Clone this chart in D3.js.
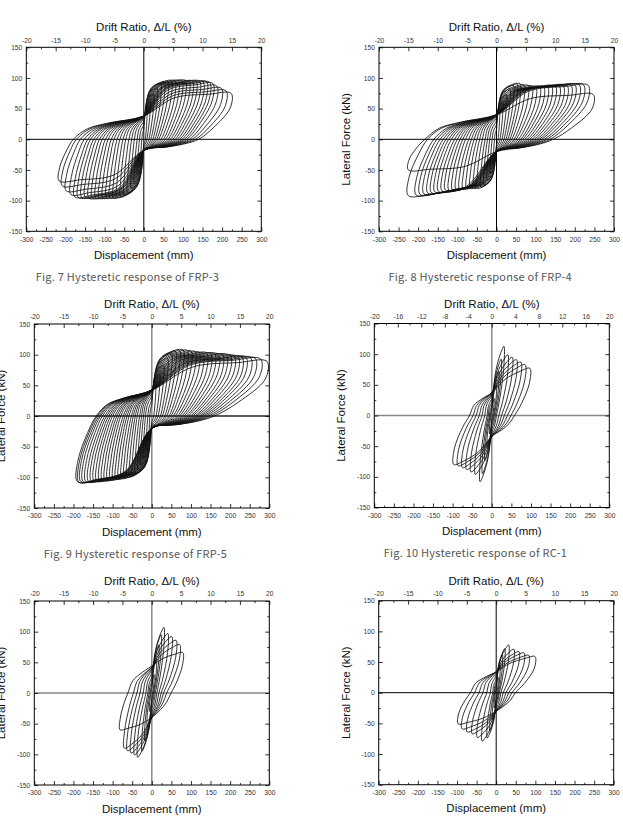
<!DOCTYPE html>
<html>
<head>
<meta charset="utf-8">
<script src="https://cdn.jsdelivr.net/npm/d3@7"></script>
<style>
  body { margin: 0; background: #fff; }
  svg { display: block; }
</style>
</head>
<body>
<svg id="fig" width="623" height="818"></svg>
<script>
// tick labels
const dispTicks = [-300, -250, -200, -150, -100, -50, 0, 50, 100, 150, 200, 250, 300];
const dispMinor = [-275, -225, -175, -125, -75, -25, 25, 75, 125, 175, 225, 275];
const forceTicks = [-150, -100, -50, 0, 50, 100, 150];
const forceMinor = [-125, -75, -25, 25, 75, 125];
const driftTicks = [-20, -15, -10, -5, 0, 5, 10, 15, 20];
const driftMinor = [-17.5, -12.5, -7.5, -2.5, 2.5, 7.5, 12.5, 17.5];
const driftTicksRC = [-20, -16, -12, -8, -4, 0, 4, 8, 12, 16, 20];
const driftMinorRC = [-18, -14, -10, -6, -2, 2, 6, 10, 14, 18];

// FRP-3: per cycle peaks (mm, kN), zero-force crossings on unloading (mm),
// force where the reloading branch crosses zero displacement (kN)
const frp3PosD = [8, 16, 25, 34, 43, 52, 61, 70, 79, 88, 97, 106, 115, 124, 133, 142, 151, 160, 168, 176, 186, 198, 210, 223];
const frp3PosF = [48, 62, 74, 84, 91, 94, 95, 96, 96, 96, 96, 96, 95, 95, 95, 95, 94, 94, 93, 91, 87, 83, 79, 75];
const frp3NegD = [-8, -16, -24, -32, -41, -50, -59, -68, -77, -86, -95, -104, -113, -122, -131, -140, -149, -158, -167, -176, -186, -198, -208, -216];
const frp3NegF = [-42, -58, -70, -80, -87, -91, -94, -95, -96, -96, -96, -96, -96, -96, -96, -96, -95, -95, -95, -94, -90, -84, -76, -68];
const frp3ZeroPos = [4, 8, 13, 18, 23, 28, 33, 38, 44, 50, 56, 62, 68, 74, 80, 86, 92, 98, 104, 110, 117, 124, 132, 140];
const frp3ZeroNeg = [-5, -11, -17, -24, -31, -38, -46, -53, -61, -68, -76, -83, -91, -98, -106, -113, -121, -128, -136, -143, -152, -162, -172, -180];
const frp3PinchUp = [16, 24, 30, 34, 36, 37, 38, 38, 38, 38, 38, 38, 38, 38, 38, 38, 38, 38, 38, 38, 38, 38, 38, 38];
const frp3PinchDown = [-8, -12, -15, -17, -18, -18, -18, -18, -18, -18, -18, -18, -18, -18, -18, -18, -18, -18, -18, -18, -18, -18, -18, -18];

// FRP-4
const frp4PosD = [8, 16, 25, 34, 43, 52, 60, 70, 80, 90, 100, 110, 120, 130, 140, 150, 160, 170, 180, 190, 200, 211, 222, 234, 247];
const frp4PosF = [45, 60, 72, 82, 88, 91, 91, 89, 88, 87, 86, 86, 86, 86, 87, 87, 87, 88, 88, 88, 89, 89, 89, 88, 73];
const frp4NegD = [-8, -16, -24, -32, -40, -49, -58, -67, -76, -85, -94, -103, -112, -121, -130, -139, -148, -157, -166, -175, -185, -195, -205, -225, -225];
const frp4NegF = [-40, -55, -66, -74, -78, -80, -80, -80, -80, -81, -81, -82, -82, -83, -83, -84, -85, -86, -87, -88, -89, -90, -91, -92, -50];
const frp4ZeroPos = [4, 9, 14, 19, 24, 29, 34, 39, 45, 50, 56, 62, 67, 73, 79, 85, 91, 97, 103, 109, 115, 122, 129, 137, 145];
const frp4ZeroNeg = [-5, -11, -17, -23, -29, -36, -43, -50, -57, -64, -71, -79, -86, -93, -100, -107, -115, -122, -129, -136, -144, -152, -160, -176, -183];
const frp4PinchUp = [16, 24, 30, 35, 38, 40, 40, 40, 40, 40, 40, 40, 40, 40, 40, 40, 40, 40, 40, 40, 40, 40, 40, 40, 40];
const frp4PinchDown = [-9, -13, -16, -18, -19, -20, -20, -20, -20, -20, -20, -20, -20, -20, -20, -20, -20, -20, -20, -20, -20, -20, -20, -20, -20];

// FRP-5
const frp5PosD = [10, 20, 30, 40, 50, 60, 70, 80, 90, 100, 110, 120, 130, 140, 150, 160, 170, 180, 190, 200, 210, 220, 230, 240, 252, 264, 278, 294];
const frp5PosF = [52, 68, 82, 94, 102, 106, 108, 108, 107, 106, 105, 104, 103, 103, 102, 102, 101, 100, 100, 99, 98, 97, 96, 96, 95, 94, 93, 89];
const frp5NegD = [-7, -14, -21, -28, -35, -42, -49, -56, -63, -70, -77, -84, -91, -98, -105, -112, -119, -126, -133, -140, -147, -154, -161, -168, -175, -181, -186, -190];
const frp5NegF = [-40, -55, -68, -80, -88, -94, -97, -99, -100, -101, -102, -102, -103, -103, -104, -104, -105, -105, -105, -106, -106, -106, -107, -107, -107, -107, -108, -107];
const frp5ZeroPos = [5, 11, 16, 22, 27, 33, 38, 44, 49, 55, 60, 66, 71, 77, 82, 88, 93, 99, 104, 110, 115, 121, 126, 132, 138, 145, 152, 160];
const frp5ZeroNeg = [-5, -10, -16, -21, -26, -31, -37, -42, -47, -52, -58, -63, -68, -73, -79, -84, -89, -94, -100, -105, -110, -115, -120, -126, -131, -135, -139, -142];
const frp5PinchUp = [18, 26, 33, 38, 41, 42, 42, 42, 42, 42, 42, 42, 42, 42, 42, 42, 42, 42, 42, 42, 42, 42, 42, 42, 42, 42, 42, 42];
const frp5PinchDown = [-9, -13, -16, -18, -19, -20, -20, -20, -20, -20, -20, -20, -20, -20, -20, -20, -20, -20, -20, -20, -20, -20, -20, -20, -20, -20, -20, -20];

// RC-1
const rc1PosD = [6, 12, 18, 24, 31, 41, 52, 63, 74, 85, 97];
const rc1PosF = [28, 50, 72, 92, 113, 99, 95, 91, 87, 83, 77];
const rc1NegD = [-6, -12, -18, -24, -30, -42, -53, -64, -75, -86, -97];
const rc1NegF = [-30, -52, -74, -95, -108, -96, -92, -88, -85, -82, -80];
const rc1ZeroPos = [2, 4, 6, 9, 12, 18, 25, 32, 40, 49, 58];
const rc1ZeroNeg = [-2, -4, -6, -9, -12, -18, -25, -32, -40, -48, -57];
const rc1PinchUp = [6, 11, 16, 22, 28, 33, 35, 36, 37, 37, 37];
const rc1PinchDown = [-6, -11, -16, -22, -28, -32, -34, -34, -34, -34, -34];

// lower left specimen
const sp5PosD = [6, 12, 18, 24, 31, 41, 51, 62, 71, 79];
const sp5PosF = [30, 55, 78, 95, 107, 97, 92, 86, 79, 66];
const sp5NegD = [-6, -12, -18, -25, -36, -44, -53, -62, -70, -81];
const sp5NegF = [-30, -55, -78, -95, -105, -101, -98, -94, -90, -60];
const sp5ZeroPos = [2, 4, 6, 9, 13, 18, 24, 30, 38, 49];
const sp5ZeroNeg = [-2, -4, -7, -10, -15, -22, -30, -38, -47, -61];
const sp5PinchUp = [7, 13, 19, 26, 33, 38, 40, 42, 42, 44];
const sp5PinchDown = [-7, -13, -19, -26, -33, -37, -39, -40, -40, -40];

// lower right specimen
const sp6PosD = [5, 10, 16, 22, 32, 45, 58, 71, 83, 99];
const sp6PosF = [25, 45, 62, 72, 78, 71, 67, 65, 61, 59];
const sp6NegD = [-5, -10, -16, -23, -36, -48, -61, -74, -87, -97];
const sp6NegF = [-25, -45, -62, -74, -79, -73, -67, -64, -59, -51];
const sp6ZeroPos = [2, 4, 6, 8, 12, 18, 25, 32, 40, 49];
const sp6ZeroNeg = [-2, -4, -6, -9, -15, -24, -34, -44, -55, -66];
const sp6PinchUp = [6, 11, 16, 22, 28, 32, 34, 34, 34, 34];
const sp6PinchDown = [-6, -11, -16, -21, -26, -29, -30, -30, -30, -30];

const W = 235, H = 184;
const axisFont = "'Liberation Sans', Arial, sans-serif";
// reloading branch shape: [knee position, knee force share, near-peak force share]
const pinchedShape = [0.35, 0.8, 0.96];
const roundShape = [0.35, 0.55, 0.88];

const panels = [
  { x: 26.3, y: 47.3, caption: "Fig. 7 Hysteretic response of FRP-3", drift: driftTicks, driftMin: driftMinor, shape: pinchedShape,
    zx: "#000", zy: "#000", zw: 1,
    d: [frp3PosD, frp3PosF, frp3NegD, frp3NegF, frp3ZeroPos, frp3ZeroNeg, frp3PinchUp, frp3PinchDown] },
  { x: 379, y: 47.3, caption: "Fig. 8 Hysteretic response of FRP-4", drift: driftTicks, driftMin: driftMinor, shape: pinchedShape,
    zx: "#000", zy: "#000", zw: 1,
    d: [frp4PosD, frp4PosF, frp4NegD, frp4NegF, frp4ZeroPos, frp4ZeroNeg, frp4PinchUp, frp4PinchDown] },
  { x: 34.3, y: 324, caption: "Fig. 9 Hysteretic response of FRP-5", drift: driftTicks, driftMin: driftMinor, shape: pinchedShape,
    zx: "#888", zy: "#222", zw: 1.5,
    d: [frp5PosD, frp5PosF, frp5NegD, frp5NegF, frp5ZeroPos, frp5ZeroNeg, frp5PinchUp, frp5PinchDown] },
  { x: 374.3, y: 323.5, caption: "Fig. 10 Hysteretic response of RC-1", drift: driftTicksRC, driftMin: driftMinorRC, shape: roundShape,
    zx: "#888", zy: "#888", zw: 1.5,
    d: [rc1PosD, rc1PosF, rc1NegD, rc1NegF, rc1ZeroPos, rc1ZeroNeg, rc1PinchUp, rc1PinchDown] },
  { x: 34.3, y: 601, caption: null, drift: driftTicks, driftMin: driftMinor, shape: roundShape,
    zx: "#888", zy: "#888", zw: 1.5,
    d: [sp5PosD, sp5PosF, sp5NegD, sp5NegF, sp5ZeroPos, sp5ZeroNeg, sp5PinchUp, sp5PinchDown] },
  { x: 378.7, y: 600.7, caption: null, drift: driftTicks, driftMin: driftMinor, shape: roundShape,
    zx: "#000", zy: "#000", zw: 1,
    d: [sp6PosD, sp6PosF, sp6NegD, sp6NegF, sp6ZeroPos, sp6ZeroNeg, sp6PinchUp, sp6PinchDown] }
];

// one closed cycle: peak -> unloading -> pinch -> opposite peak -> unloading -> pinch
function loopPoints(dp, fp, dn, fn, zp, zn, up, dw, s) {
  const [kx, kf, qf] = s;
  return [
    [dp, fp],
    [0.97 * dp + 0.03 * zp, 0.68 * fp],
    [zp + 0.45 * (dp - zp), 0.25 * fp],
    [zp, 0],
    [0.75 * zp, 0.4 * dw],
    [0.45 * zp, 0.68 * dw],
    [0, dw],
    [kx * dn, dw + kf * (fn - dw)],
    [0.75 * dn, dw + qf * (fn - dw)],
    [dn, fn],
    [0.97 * dn + 0.03 * zn, 0.68 * fn],
    [zn + 0.45 * (dn - zn), 0.25 * fn],
    [zn, 0],
    [0.8 * zn, 0.45 * up],
    [0.5 * zn, 0.7 * up],
    [0, up],
    [kx * dp, up + kf * (fp - up)],
    [0.75 * dp, up + qf * (fp - up)]
  ];
}

const svg = d3.select("#fig");
const minus = d => String(d);

function styleAxis(g) {
  g.select(".domain").remove();
  g.attr("font-family", axisFont).attr("font-size", 6.7);
  g.selectAll(".tick line").attr("stroke", "#000").attr("stroke-width", 0.8);
  g.selectAll(".tick text").attr("fill", "#333");
}

panels.forEach(p => {
  const g = svg.append("g").attr("transform", `translate(${p.x},${p.y})`);
  const x = d3.scaleLinear().domain([-300, 300]).range([0, W]);
  const y = d3.scaleLinear().domain([-150, 150]).range([H, 0]);
  const drift = d3.scaleLinear().domain([-20, 20]).range([0, W]);

  // zero lines
  g.append("line").attr("x1", x(0)).attr("x2", x(0)).attr("y1", 0).attr("y2", H)
    .attr("stroke", p.zx).attr("stroke-width", p.zw);
  g.append("line").attr("x1", 0).attr("x2", W).attr("y1", y(0)).attr("y2", y(0))
    .attr("stroke", p.zy).attr("stroke-width", p.zw);

  // hysteresis loops
  const [posD, posF, negD, negF, zPos, zNeg, pUp, pDown] = p.d;
  const line = d3.line().x(d => x(d[0])).y(d => y(d[1]))
    .curve(d3.curveCatmullRomClosed.alpha(0.5));
  g.append("g").selectAll("path")
    .data(posD.map((dp, i) => loopPoints(dp, posF[i], negD[i], negF[i], zPos[i], zNeg[i], pUp[i], pDown[i], p.shape)))
    .join("path")
    .attr("d", line)
    .attr("fill", "none")
    .attr("stroke", "#111")
    .attr("stroke-width", 0.85);

  // axes, ticks inward
  g.append("g").attr("transform", `translate(0,${H})`)
    .call(d3.axisBottom(x).tickValues(dispTicks).tickSize(-4).tickPadding(5.5).tickFormat(minus)).call(styleAxis);
  g.append("g").attr("transform", `translate(0,${H})`)
    .call(d3.axisBottom(x).tickValues(dispMinor).tickSize(-2).tickFormat("")).call(styleAxis);
  g.append("g")
    .call(d3.axisTop(drift).tickValues(p.drift).tickSize(-4).tickPadding(4.7).tickFormat(minus)).call(styleAxis);
  g.append("g")
    .call(d3.axisTop(drift).tickValues(p.driftMin).tickSize(-2).tickFormat("")).call(styleAxis);
  g.append("g")
    .call(d3.axisLeft(y).tickValues(forceTicks).tickSize(-4).tickPadding(4).tickFormat(minus)).call(styleAxis);
  g.append("g")
    .call(d3.axisLeft(y).tickValues(forceMinor).tickSize(-2).tickFormat("")).call(styleAxis);
  g.append("g").attr("transform", `translate(${W},0)`)
    .call(d3.axisRight(y).tickValues(forceTicks).tickSize(-4).tickFormat("")).call(styleAxis);
  g.append("g").attr("transform", `translate(${W},0)`)
    .call(d3.axisRight(y).tickValues(forceMinor).tickSize(-2).tickFormat("")).call(styleAxis);

  // frame
  g.append("rect").attr("width", W).attr("height", H)
    .attr("fill", "none").attr("stroke", "#000").attr("stroke-width", 1);

  // titles
  g.append("text").attr("x", W / 2).attr("y", -20).attr("dy", "0.35em")
    .attr("text-anchor", "middle").attr("font-family", axisFont).attr("font-size", 11.5).attr("fill", "#111")
    .text("Drift Ratio, \u0394/L (%)");
  g.append("text").attr("x", W / 2).attr("y", H + 23.5).attr("dy", "0.35em")
    .attr("text-anchor", "middle").attr("font-family", axisFont).attr("font-size", 11.5).attr("fill", "#111")
    .text("Displacement (mm)");
  g.append("text").attr("transform", `translate(-33,${H / 2}) rotate(-90)`).attr("dy", "0.35em")
    .attr("text-anchor", "middle").attr("font-family", axisFont).attr("font-size", 11.5).attr("fill", "#111")
    .text("Lateral Force (kN)");

  if (p.caption) {
    g.append("text").attr("x", W / 2 - 16.5).attr("y", H + 46).attr("dy", "0.35em")
      .attr("text-anchor", "middle").attr("font-family", "'Noto Sans CJK KR', 'Noto Sans', sans-serif")
      .attr("font-size", 11).attr("fill", "#555")
      .attr("textLength", 183).attr("lengthAdjust", "spacing")
      .text(p.caption);
  }
});
</script>
</body>
</html>
